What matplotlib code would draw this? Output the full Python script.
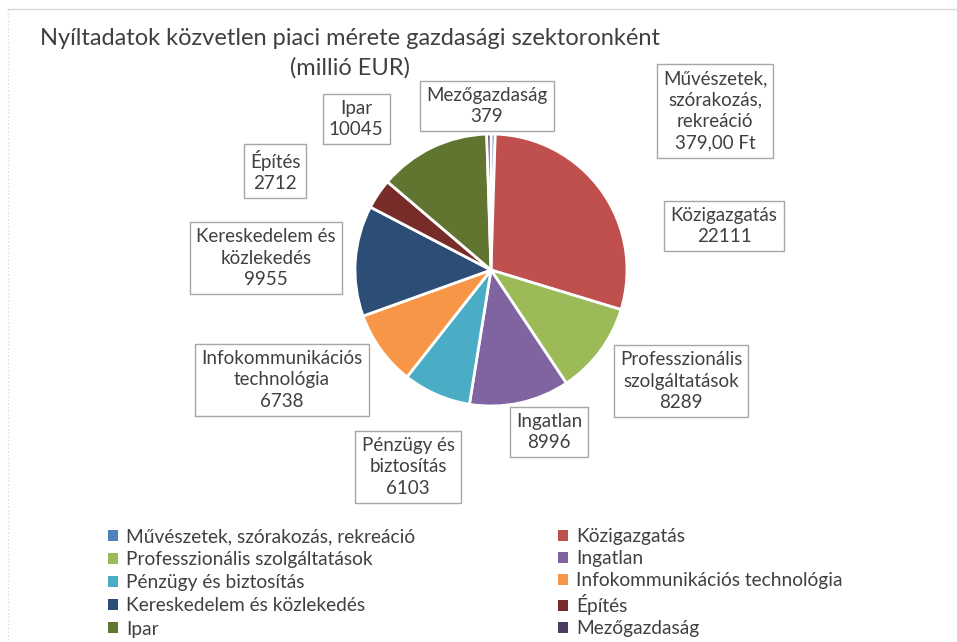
import matplotlib
matplotlib.use("Agg")
import matplotlib.pyplot as plt

categories = ["Művészetek, szórakozás, rekreáció", "Közigazgatás",
              "Professzionális szolgáltatások", "Ingatlan",
              "Pénzügy és biztosítás", "Infokommunikációs technológia",
              "Kereskedelem és közlekedés", "Építés", "Ipar", "Mezőgazdaság"]
values = [379, 22111, 8289, 8996, 6103, 6738, 9955, 2712, 10045, 379]
label_names = ["Művészetek,\nszórakozás,\nrekreáció", "Közigazgatás",
               "Professzionális\nszolgáltatások", "Ingatlan",
               "Pénzügy és\nbiztosítás", "Infokommunikációs\ntechnológia",
               "Kereskedelem és\nközlekedés", "Építés", "Ipar", "Mezőgazdaság"]
value_formats = ["{:.2f} Ft", "{:d}", "{:d}", "{:d}", "{:d}", "{:d}", "{:d}", "{:d}", "{:d}", "{:d}"]
colors = ["#4F81BD", "#C0504D", "#9BBB59", "#8064A2", "#4BACC6",
          "#F79646", "#2C4D75", "#772C2A", "#5F7530", "#4D3B62"]
title = "Nyíltadatok közvetlen piaci mérete gazdasági szektoronként\n(millió EUR)"

# label box centers (pixels from top-left)
label_pos = [(715, 111), (724, 226), (681, 381), (549, 432), (408, 467),
             (282, 380), (266, 258), (275, 171), (356, 119), (487, 106)]

W, H = 957, 642
plt.rcParams['font.family'] = ['Lato', 'DejaVu Sans']
fig = plt.figure(figsize=(W / 100, H / 100), dpi=100)
ax = fig.add_axes([0, 0, 1, 1])

def py(y):
    return H - y

wedges, _ = ax.pie(values, colors=colors, startangle=90, counterclock=False,
                   center=(491, py(270)), radius=136,
                   wedgeprops=dict(edgecolor="white", linewidth=2))
ax.set_xlim(0, W)
ax.set_ylim(0, H)
ax.set_aspect("equal")
ax.axis("off")

# frame lines
ax.plot([8, W], [py(9), py(9)], color="#D9D9D9", lw=1)
ax.plot([8, 8], [py(9), 0], color="#D9D9D9", lw=1, ls=":")

ax.text(350, py(53), title, ha="center", va="center", fontsize=17,
        color="#404040", linespacing=1.45, multialignment="center")

for name, v, fmt, (x, y) in zip(label_names, values, value_formats, label_pos):
    s = fmt.format(v).replace(".", ",")
    ax.text(x, py(y), name + "\n" + s, ha="center", va="center",
            fontsize=13.5, color="#404040", linespacing=1.32,
            multialignment="center",
            bbox=dict(boxstyle="square,pad=0.33", fc="white", ec="#A6A6A6", lw=1))

order1 = [0, 2, 4, 6, 8]
order2 = [1, 3, 5, 7, 9]
common = dict(frameon=False, fontsize=13.8, handlelength=0.5, handleheight=0.5,
              handletextpad=0.45, borderaxespad=0, borderpad=0,
              labelcolor="#404040")
leg1 = ax.legend([wedges[i] for i in order1], [categories[i] for i in order1],
                 loc="upper left", bbox_to_anchor=(108 / W, 1 - 528 / H),
                 bbox_transform=fig.transFigure, labelspacing=0.32, **common)
ax.add_artist(leg1)
leg2 = ax.legend([wedges[i] for i in order2], [categories[i] for i in order2],
                 loc="upper left", bbox_to_anchor=(558 / W, 1 - 528 / H),
                 bbox_transform=fig.transFigure, labelspacing=0.26, **common)
for leg in (leg1, leg2):
    for h in leg.legend_handles:
        h.set_edgecolor("none")

fig.savefig("out.png", dpi=100, facecolor="white")
